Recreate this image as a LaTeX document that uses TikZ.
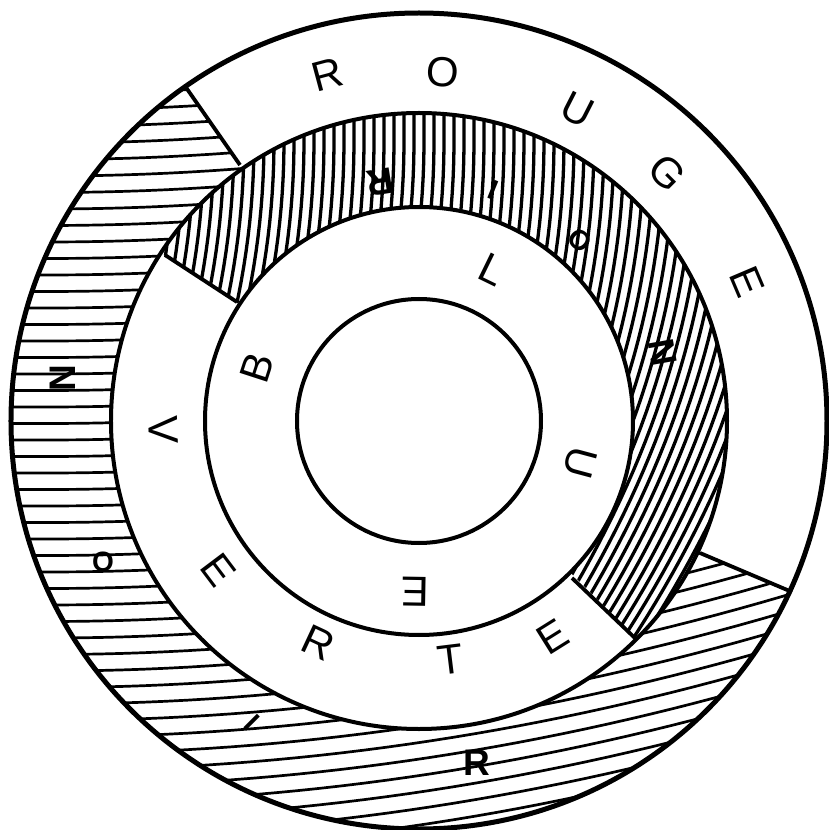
\documentclass[tikz,border=0pt]{standalone}
\usepackage{fontspec}
\setmainfont{Liberation Sans}
\begin{document}
\begin{tikzpicture}[x=1pt,y=1pt,
  ringline/.style={line width=4pt},
  outerline/.style={line width=5pt},
  hatchline/.style={line width=2.7pt},
  vhatchline/.style={line width=3.3pt},
  divider/.style={line width=3.8pt},
  bigletter/.style={font=\fontsize{42}{42}\selectfont, inner sep=0pt},
  boldletter/.style={font=\fontsize{37}{37}\selectfont\bfseries, inner sep=0pt},
  smallbold/.style={font=\fontsize{28}{28}\selectfont\bfseries, inner sep=0pt}]
\useasboundingbox (-419,-409) rectangle (410,421);
\fill[white] (-419,-409) rectangle (410,421);

% outer ring, horizontal hatching (NOIR)
\begin{scope}
\clip (125:408) arc[start angle=125,end angle=335,radius=408] -- (335:308) arc[start angle=335,end angle=125,radius=308] -- cycle;
\foreach \k in {0,...,52} {
  \pgfmathsetmacro{\yk}{344-16.5*\k}
  \draw[hatchline] plot[domain=-430:430, samples=40] (\x, {\yk + (0.0141421*max(0,(\x)+370))^2});
}
\end{scope}

% middle ring, vertical hatching (NOIR)
\begin{scope}
\clip (-45:308) arc[start angle=-45,end angle=147,radius=308] -- (147:214) arc[start angle=147,end angle=-45,radius=214] -- cycle;
\foreach \k in {0,...,72} {
  \pgfmathsetmacro{\xk}{-315+10*\k}
  \draw[vhatchline] plot[domain=-240:330, samples=40] ({\xk - (0.025495*max(0,280-(\x)))^2}, \x);
}
\end{scope}

% circles
\draw[outerline] (0,0) circle[radius=408];
\draw[ringline] (0,0) circle[radius=308];
\draw[ringline] (0,0) circle[radius=214];
\draw[ringline] (0,0) circle[radius=122];

% dividers
\coordinate (da1) at (-234,335);
\coordinate (da2) at (-179,256);
\coordinate (db1) at (373,-171);
\coordinate (db2) at (281,-132);
\coordinate (dc1) at (-254,166);
\coordinate (dc2) at (-182,119);
\coordinate (dd1) at (218,-219);
\coordinate (dd2) at (153,-157);
\draw[divider] (da1) -- (da2);
\draw[divider] (db1) -- (db2);
\draw[divider] (dc1) -- (dc2);
\draw[divider] (dd1) -- (dd2);

% ROUGE
\node[bigletter, rotate=15] (ro1) at (-92,346) {R};
\node[bigletter, rotate=-4] (ro2) at (24,349) {O};
\node[bigletter, rotate=-27] (ro3) at (158,311) {U};
\node[bigletter, rotate=-45] (ro4) at (248,248) {G};
\node[bigletter, rotate=-67] (ro5) at (328,139) {E};

% NOIR outer
\node[boldletter, rotate=90] (no1) at (-356,43) {N};
\node[smallbold] (no2) at (-316,-141) {O};
\node[smallbold, rotate=-45] (no3) at (-167,-301) {I};
\node[boldletter] (no4) at (58,-342) {R};

% NOIR middle
\node[boldletter, rotate=189] (nm1) at (-39,239) {R};
\node[smallbold, rotate=158] (nm2) at (74,231) {I};
\node[smallbold, rotate=138] (nm3) at (161,181) {O};
\node[boldletter, rotate=100] (nm4) at (244,68) {N};

% VERTE
\node[bigletter, rotate=-88] (ve1) at (-256,-9) {V};
\node[bigletter, rotate=-53] (ve2) at (-201,-149) {E};
\node[bigletter, rotate=-25] (ve3) at (-101,-222) {R};
\node[bigletter, rotate=7] (ve4) at (31,-239) {T};
\node[bigletter, rotate=32] (ve5) at (134,-216) {E};

% BLUE
\node[bigletter, rotate=72] (bl1) at (-162,53) {B};
\node[bigletter, rotate=-26] (bl2) at (73,151) {L};
\node[bigletter, rotate=-105] (bl3) at (161,-42) {U};
\node[bigletter, rotate=179] (bl4) at (-4,-171) {E};
\end{tikzpicture}
\end{document}
